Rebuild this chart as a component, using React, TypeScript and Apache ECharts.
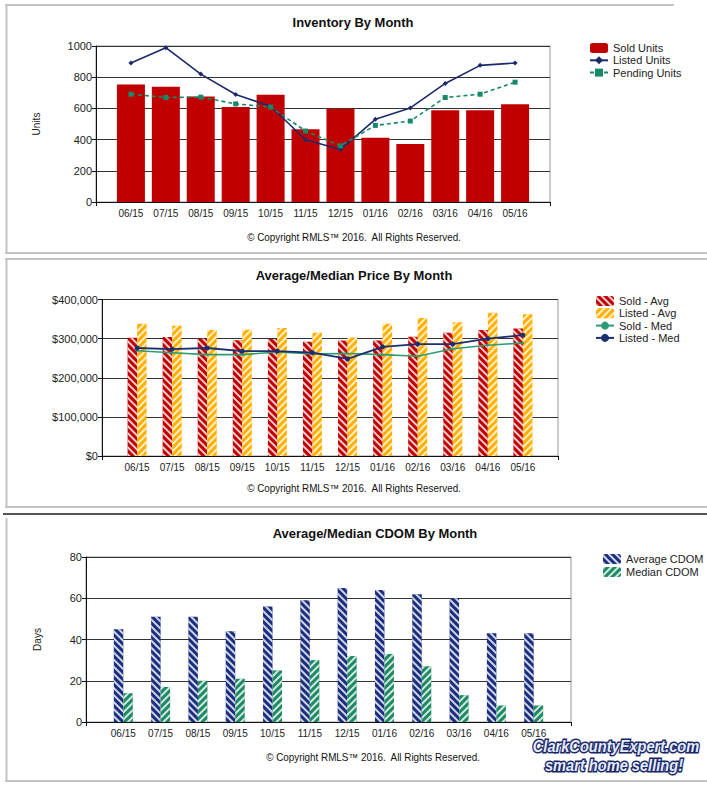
import React, { useEffect, useRef } from "react";
import * as echarts from "echarts";

const months = ["06/15", "07/15", "08/15", "09/15", "10/15", "11/15", "12/15", "01/16", "02/16", "03/16", "04/16", "05/16"];

const soldUnits = [753, 738, 676, 609, 687, 466, 597, 412, 371, 588, 588, 627];
const listedUnits = [891, 989, 820, 689, 614, 399, 337, 530, 603, 760, 876, 891];
const pendingUnits = [691, 670, 672, 629, 609, 455, 360, 491, 519, 670, 691, 768];

const soldAvg = [302000, 304000, 300000, 296000, 299000, 292000, 295000, 295000, 305000, 315000, 322000, 326000];
const listedAvg = [338000, 333000, 322000, 323000, 327000, 315000, 303000, 338000, 353000, 342000, 366000, 362000];
const soldMed = [269000, 264000, 259000, 259000, 266000, 261000, 262000, 259000, 255000, 274000, 283000, 289000];
const listedMed = [276000, 273000, 276000, 268000, 268000, 264000, 248000, 279000, 286000, 286000, 300000, 309000];

const avgCdom = [45, 51, 51, 44, 56, 59, 65, 64, 62, 60, 43, 43];
const medCdom = [14, 17, 20, 21, 25, 30, 32, 33, 27, 13, 8, 8];

const titles = ["Inventory By Month", "Average/Median Price By Month", "Average/Median CDOM By Month"];
const copyright = "\u00A9 Copyright RMLS\u2122 2016.  All Rights Reserved.";
const logoLines = ["ClarkCountyExpert.com", "smart home selling!"];

const FONT = "'Liberation Sans', Arial, sans-serif";

const cats = ["", ...months, ""];
const pad = (a: number[]) => [null, ...a, null];

const xAx = (gridIndex: number) => ({
  type: "category",
  gridIndex,
  data: cats,
  boundaryGap: false,
  axisLine: { lineStyle: { color: "#111", width: 1 } },
  axisTick: {
    show: true,
    length: 4,
    interval: (i: number) => i === 0 || i === cats.length - 1,
    lineStyle: { color: "#111" },
  },
  axisLabel: { interval: 0, fontSize: 10, color: "#222", margin: 6, fontFamily: FONT },
  splitLine: { show: false },
});

const yAx = (gridIndex: number, max: number, interval: number, formatter: (v: number) => string, extra: any = {}) => ({
  type: "value",
  gridIndex,
  min: 0,
  max,
  interval,
  axisLine: { show: true, lineStyle: { color: "#111" } },
  axisTick: { show: true, length: 4, lineStyle: { color: "#111" } },
  axisLabel: { fontSize: 11, color: "#222", margin: 4, fontFamily: FONT, formatter },
  splitLine: { show: true, lineStyle: { color: "#333", width: 1 } },
  nameTextStyle: { fontSize: 10, color: "#222", fontFamily: FONT },
  ...extra,
});

const stripes = (rot: number) => ({
  symbol: "rect",
  symbolSize: 1,
  color: "rgba(255,255,255,0.8)",
  dashArrayX: [1, 0],
  dashArrayY: [2, 3],
  rotation: rot,
});

const hline = (x1: number, x2: number, y: number, stroke: string, w: number) => ({
  type: "line",
  shape: { x1, y1: y, x2, y2: y },
  style: { stroke, lineWidth: w },
  silent: true,
});
const vline = (x: number, y1: number, y2: number, stroke: string, w: number) => ({
  type: "line",
  shape: { x1: x, y1, x2: x, y2 },
  style: { stroke, lineWidth: w },
  silent: true,
});
const ctext = (text: string, x: number, y: number, size: number, bold = false, sx = 1) => ({
  type: "text",
  x,
  y,
  scaleX: sx,
  style: {
    text,
    textAlign: "center",
    textVerticalAlign: "middle",
    fontSize: size,
    fontWeight: bold ? "bold" : "normal",
    fontFamily: FONT,
    fill: "#111",
  },
  silent: true,
});
const logoText = (text: string, x: number, y: number) => ({
  type: "text",
  x,
  y,
  scaleX: 0.86,
  style: {
    text,
    textAlign: "center",
    textVerticalAlign: "middle",
    fontSize: 17,
    fontWeight: "bold",
    fontStyle: "italic",
    fontFamily: FONT,
    fill: "#e6ecff",
    stroke: "#1a2766",
    lineWidth: 3,
  },
  silent: true,
});

export default function App() {
  const ref = useRef<HTMLDivElement>(null);

  useEffect(() => {
    document.body.style.margin = "0";
    if (!ref.current) return;
    const chart = echarts.init(ref.current, null, { renderer: "svg" });
    const legendBase = {
      orient: "vertical",
      padding: 0,
      itemWidth: 18,
      itemHeight: 10,
      itemGap: 0.3,
      textStyle: { fontSize: 11, lineHeight: 12, color: "#222", fontFamily: FONT },
      selectedMode: false,
    };
    const border = "#c4c4c4";
    const plain = (v: number) => String(v);
    const option: any = {
      animation: false,
      backgroundColor: "#fff",
      textStyle: { fontFamily: FONT },
      grid: [
        { left: 96, top: 46, width: 454, height: 156, show: true, borderColor: "#999", borderWidth: 1 },
        { left: 102, top: 299.5, width: 456, height: 156.5, show: true, borderColor: "#999", borderWidth: 1 },
        { left: 86, top: 557, width: 485, height: 165, show: true, borderColor: "#999", borderWidth: 1 },
      ],
      xAxis: [xAx(0), xAx(1), xAx(2)],
      yAxis: [
        yAx(0, 1000, 200, plain, { name: "Units", nameLocation: "middle", nameGap: 55, nameRotate: 90 }),
        yAx(1, 400000, 100000, (v: number) => "$" + v.toLocaleString("en-US")),
        yAx(2, 80, 20, plain, { name: "Days", nameLocation: "middle", nameGap: 44, nameRotate: 90 }),
      ],
      legend: [
        { ...legendBase, left: 589, top: 42, data: ["Sold Units", "Listed Units", "Pending Units"] },
        { ...legendBase, left: 595, top: 295, data: ["Sold - Avg", "Listed - Avg", "Sold - Med", "Listed - Med"] },
        { ...legendBase, left: 603, top: 553, itemGap: 1, data: ["Average CDOM", "Median CDOM"] },
      ],
      series: [
        {
          name: "Sold Units",
          type: "bar",
          xAxisIndex: 0,
          yAxisIndex: 0,
          barWidth: 28,
          itemStyle: { color: "#C00000" },
          data: pad(soldUnits),
        },
        {
          name: "Listed Units",
          type: "line",
          xAxisIndex: 0,
          yAxisIndex: 0,
          symbol: "diamond",
          symbolSize: 5,
          itemStyle: { color: "#1B2A6B" },
          lineStyle: { color: "#1B2A6B", width: 1.6 },
          data: pad(listedUnits),
        },
        {
          name: "Pending Units",
          type: "line",
          xAxisIndex: 0,
          yAxisIndex: 0,
          symbol: "rect",
          symbolSize: 5,
          itemStyle: { color: "#17896A" },
          lineStyle: { color: "#17896A", width: 1.6, type: [4, 3] },
          data: pad(pendingUnits),
        },
        {
          name: "Sold - Avg",
          type: "bar",
          xAxisIndex: 1,
          yAxisIndex: 1,
          barWidth: 9.5,
          barGap: "0%",
          itemStyle: { color: "#C00000", decal: stripes(Math.PI / 4) },
          data: pad(soldAvg),
        },
        {
          name: "Listed - Avg",
          type: "bar",
          xAxisIndex: 1,
          yAxisIndex: 1,
          barWidth: 9.5,
          barGap: "0%",
          itemStyle: { color: "#FFB000", decal: stripes(-Math.PI / 4) },
          data: pad(listedAvg),
        },
        {
          name: "Sold - Med",
          type: "line",
          xAxisIndex: 1,
          yAxisIndex: 1,
          symbol: "circle",
          symbolSize: 2.5,
          itemStyle: { color: "#2E9C72" },
          lineStyle: { color: "#2E9C72", width: 1.6 },
          data: pad(soldMed),
        },
        {
          name: "Listed - Med",
          type: "line",
          xAxisIndex: 1,
          yAxisIndex: 1,
          symbol: "circle",
          symbolSize: 5,
          itemStyle: { color: "#1B2F70" },
          lineStyle: { color: "#1B2F70", width: 1.8 },
          data: pad(listedMed),
        },
        {
          name: "Average CDOM",
          type: "bar",
          xAxisIndex: 2,
          yAxisIndex: 2,
          barWidth: 9.5,
          barGap: "0%",
          itemStyle: { color: "#1B2F7E", decal: stripes(Math.PI / 4) },
          data: pad(avgCdom),
        },
        {
          name: "Median CDOM",
          type: "bar",
          xAxisIndex: 2,
          yAxisIndex: 2,
          barWidth: 9.5,
          barGap: "0%",
          itemStyle: { color: "#1E8A64", decal: stripes(-Math.PI / 4) },
          data: pad(medCdom),
        },
      ],
      graphic: [
        hline(5, 674, 5, border, 2),
        vline(6.5, 5, 253, border, 2),
        hline(5, 707, 253, border, 2),
        hline(5, 707, 259, border, 2),
        vline(6.5, 259, 507, border, 2),
        hline(5, 707, 507, border, 2),
        hline(3, 707, 514, "#555", 2),
        vline(6.5, 518, 781, border, 2),
        hline(5, 707, 781, border, 2),
        ctext(titles[0], 353, 22.5, 13.5, true, 0.96),
        ctext(titles[1], 354, 275.5, 13.5, true, 0.96),
        ctext(titles[2], 375, 533, 13.5, true, 0.96),
        ctext(copyright, 354, 237, 10.5, false, 0.94),
        ctext(copyright, 354, 488.5, 10.5, false, 0.94),
        ctext(copyright, 373, 757, 10.5, false, 0.94),
        logoText(logoLines[0], 616, 746),
        logoText(logoLines[1], 614, 765),
      ],
    };
    chart.setOption(option);
    return () => chart.dispose();
  }, []);

  return <div ref={ref} style={{ position: "absolute", left: 0, top: 0, width: 707, height: 785 }} />;
}
